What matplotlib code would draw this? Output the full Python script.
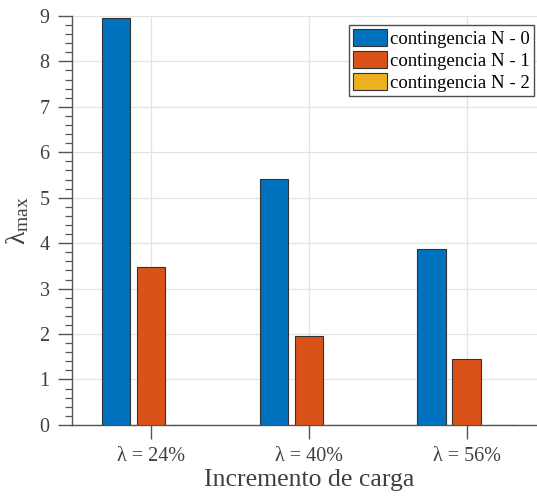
import numpy as np
import matplotlib
matplotlib.use('Agg')
import matplotlib.pyplot as plt
from matplotlib.ticker import MultipleLocator

plt.rcParams['font.family'] = ['Liberation Serif', 'DejaVu Serif']
plt.rcParams['mathtext.fontset'] = 'custom'
plt.rcParams['mathtext.rm'] = 'Liberation Serif'
plt.rcParams['mathtext.default'] = 'regular'

# datos
grupos = ['λ = 24%', 'λ = 40%', 'λ = 56%']
n0 = [8.96, 5.42, 3.88]
n1 = [3.47, 1.96, 1.44]
n2 = [0, 0, 0]
series = ['contingencia N - 0', 'contingencia N - 1', 'contingencia N - 2']
colores = ['#0072BD', '#D95319', '#EDB120']

fig = plt.figure(figsize=(5.37, 4.97), dpi=100)
ax = fig.add_axes([0.134, 0.145, 0.882, 0.823])

x = np.arange(1, len(grupos) + 1)
ancho = 0.18
desp = 0.222
for i, (vals, nom, c) in enumerate(zip([n0, n1, n2], series, colores)):
    ax.bar(x + (i - 1) * desp, vals, ancho, color=c, edgecolor='#333333',
           linewidth=0.8, label=nom, zorder=3)

ax.set_xlim(0.5, 3.5)
ax.set_ylim(0, 9)
ax.set_xticks(x)
ax.set_xticklabels(grupos)
ax.yaxis.set_major_locator(MultipleLocator(1))
ax.yaxis.set_minor_locator(MultipleLocator(0.2))

gris = '#555555'
ax.grid(True, color='#e3e3e3', linewidth=0.9, zorder=0)
ax.set_axisbelow(True)
for s in ['top', 'right']:
    ax.spines[s].set_visible(False)
for s in ['left', 'bottom']:
    ax.spines[s].set_color(gris)
    ax.spines[s].set_linewidth(1.0)
ax.tick_params(axis='both', which='major', direction='out', length=10,
               width=1.0, color=gris, labelsize=14.5, labelcolor='#404040', pad=6)
ax.tick_params(axis='y', which='minor', direction='out', length=5,
               width=0.9, color=gris)

ax.set_xlabel('Incremento de carga', fontsize=18.5, color='#404040', labelpad=2)
ax.set_ylabel('λ$_{\\mathrm{max}}$', fontsize=20, color='#404040', labelpad=6)

leg = ax.legend(loc='upper right', bbox_to_anchor=(0.975, 0.978), fontsize=13.5,
                frameon=True, fancybox=False, edgecolor='#222222',
                handlelength=1.8, handleheight=1.0, handletextpad=0.15,
                borderpad=0.22, labelspacing=0.18, borderaxespad=0)
leg.get_frame().set_linewidth(1.0)

fig.savefig('out.png', dpi=100)
